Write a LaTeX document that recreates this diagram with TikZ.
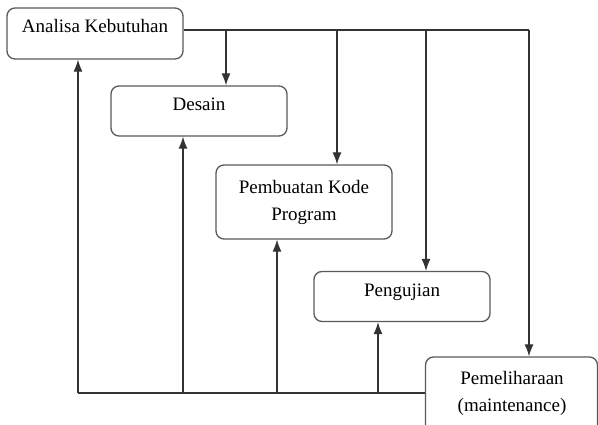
\documentclass[tikz,border=0pt]{standalone}
\usepackage{fontspec}
\setmainfont{Liberation Serif}
\usetikzlibrary{arrows.meta}

\begin{document}
\begin{tikzpicture}[x=1pt,y=-1pt,
	box/.style={draw=black!65, line width=1.3pt, rounded corners=8pt, inner sep=0pt},
	txt/.style={anchor=base, align=center, font=\fontsize{19}{26.5}\selectfont},
	ln/.style={draw=black!80, line width=1.1pt},
	arr/.style={ln, -{Latex[length=12pt,width=9pt]}}]
	\useasboundingbox (0,0) rectangle (598,425);
	
	\node[box, minimum width=176, minimum height=51] (ak) at (95,33.5) {};
	\node[box, minimum width=176, minimum height=50] (ds) at (199,111) {};
	\node[box, minimum width=176, minimum height=74] (pk) at (304,202) {};
	\node[box, minimum width=176, minimum height=50] (pg) at (402,296.5) {};
	\node[box, minimum width=172, minimum height=76] (pm) at (511.5,395) {};
	
	\node[txt] (akt) at (95,33) {Analisa Kebutuhan};
	\node[txt] (dst) at (199,111) {Desain};
	\node[txt] (pkt) at (304,220.5) {Pembuatan Kode\\Program};
	\node[txt] (pgt) at (402,297) {Pengujian};
	\node[txt] (pmt) at (512,411) {Pemeliharaan\\(maintenance)};
	
	% garis atas ke tiap tahap
	\coordinate (tr) at (529,30);
	\coordinate (d1) at (226,30);
	\coordinate (d2) at (337,30);
	\coordinate (d3) at (426,30);
	\draw[ln] (ak.east |- tr) -- (tr);
	\draw[arr] (tr) -- (tr |- pm.north);
	\draw[arr] (d1) -- (d1 |- ds.north);
	\draw[arr] (d2) -- (d2 |- pk.north);
	\draw[arr] (d3) -- (d3 |- pg.north);
	
	% garis balik di bawah
	\coordinate (bl) at (78,393);
	\coordinate (u1) at (183,393);
	\coordinate (u2) at (277,393);
	\coordinate (u3) at (378,393);
	\draw[ln] (bl) -- (bl -| pm.west);
	\draw[arr] (bl) -- (bl |- ak.south);
	\draw[arr] (u1) -- (u1 |- ds.south);
	\draw[arr] (u2) -- (u2 |- pk.south);
	\draw[arr] (u3) -- (u3 |- pg.south);
\end{tikzpicture}
\end{document}
